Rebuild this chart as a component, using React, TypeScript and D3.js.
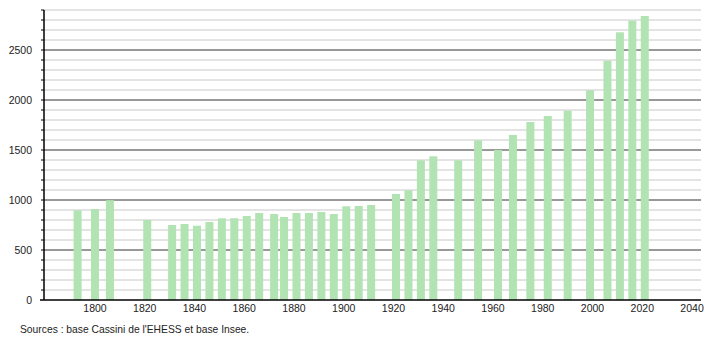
import React from "react";
import * as d3 from "d3";

const years = [1793, 1800, 1806, 1821, 1831, 1836, 1841, 1846, 1851, 1856, 1861, 1866, 1872, 1876, 1881, 1886, 1891, 1896, 1901, 1906, 1911, 1921, 1926, 1931, 1936, 1946, 1954, 1962, 1968, 1975, 1982, 1990, 1999, 2006, 2011, 2016, 2021];
const population = [897, 910, 998, 800, 750, 760, 743, 780, 817, 818, 840, 870, 860, 830, 870, 870, 880, 860, 937, 940, 950, 1060, 1097, 1397, 1437, 1397, 1597, 1500, 1650, 1780, 1840, 1893, 2097, 2393, 2677, 2793, 2840];
const xTicks = [1800, 1820, 1840, 1860, 1880, 1900, 1920, 1940, 1960, 1980, 2000, 2020, 2040];
const yTicks = [0, 500, 1000, 1500, 2000, 2500];
const sourceText = "Sources : base Cassini de l'EHESS et base Insee.";

export default function App() {
  const W = 710, H = 340;
  const left = 44, right = 701, top = 10, bottom = 300;
  const x = d3.scaleLinear().domain([1779.5, 2043.6]).range([left, right]);
  const y = d3.scaleLinear().domain([0, 2900]).range([bottom, top]);
  const minor = d3.range(100, 2901, 100);
  const font = "'Liberation Sans', Arial, sans-serif";
  const barW = 8;
  return (
    <svg width={W} height={H} style={{ position: "absolute", left: 0, top: 0 }}>
      <rect width={W} height={H} fill="#fff" />
      {minor.filter((v) => v % 500 !== 0).map((v) => (
        <line key={"g" + v} x1={left} x2={right} y1={y(v)} y2={y(v)} stroke="#c8c8c8" strokeWidth={1} />
      ))}
      {yTicks.filter((v) => v > 0).map((v) => (
        <line key={"M" + v} x1={left} x2={right} y1={y(v)} y2={y(v)} stroke="#333" strokeWidth={1} />
      ))}
      {years.map((yr, i) => (
        <rect key={yr} x={x(yr) - barW / 2} y={y(population[i])} width={barW} height={bottom - y(population[i])} fill="#b2e3b2" />
      ))}
      <line x1={left} x2={left} y1={top} y2={bottom} stroke="#000" strokeWidth={1.5} />
      <line x1={40} x2={right} y1={bottom} y2={bottom} stroke="#000" strokeWidth={1.5} />
      {minor.map((v) => (
        <line key={"t" + v} x1={left - 3} x2={left} y1={y(v)} y2={y(v)} stroke="#000" strokeWidth={1} />
      ))}
      {yTicks.map((v) => (
        <text key={"yl" + v} x={32} y={y(v)} dy="0.35em" textAnchor="end" fontFamily={font} fontSize={10.5} fill="#222">{v}</text>
      ))}
      {xTicks.map((v) => (
        <text key={"xl" + v} x={x(v)} y={308} dy="0.35em" textAnchor="middle" fontFamily={font} fontSize={10.5} fill="#222">{v}</text>
      ))}
      <text x={20} y={333} fontFamily={font} fontSize={10.3} fill="#222">{sourceText}</text>
    </svg>
  );
}
